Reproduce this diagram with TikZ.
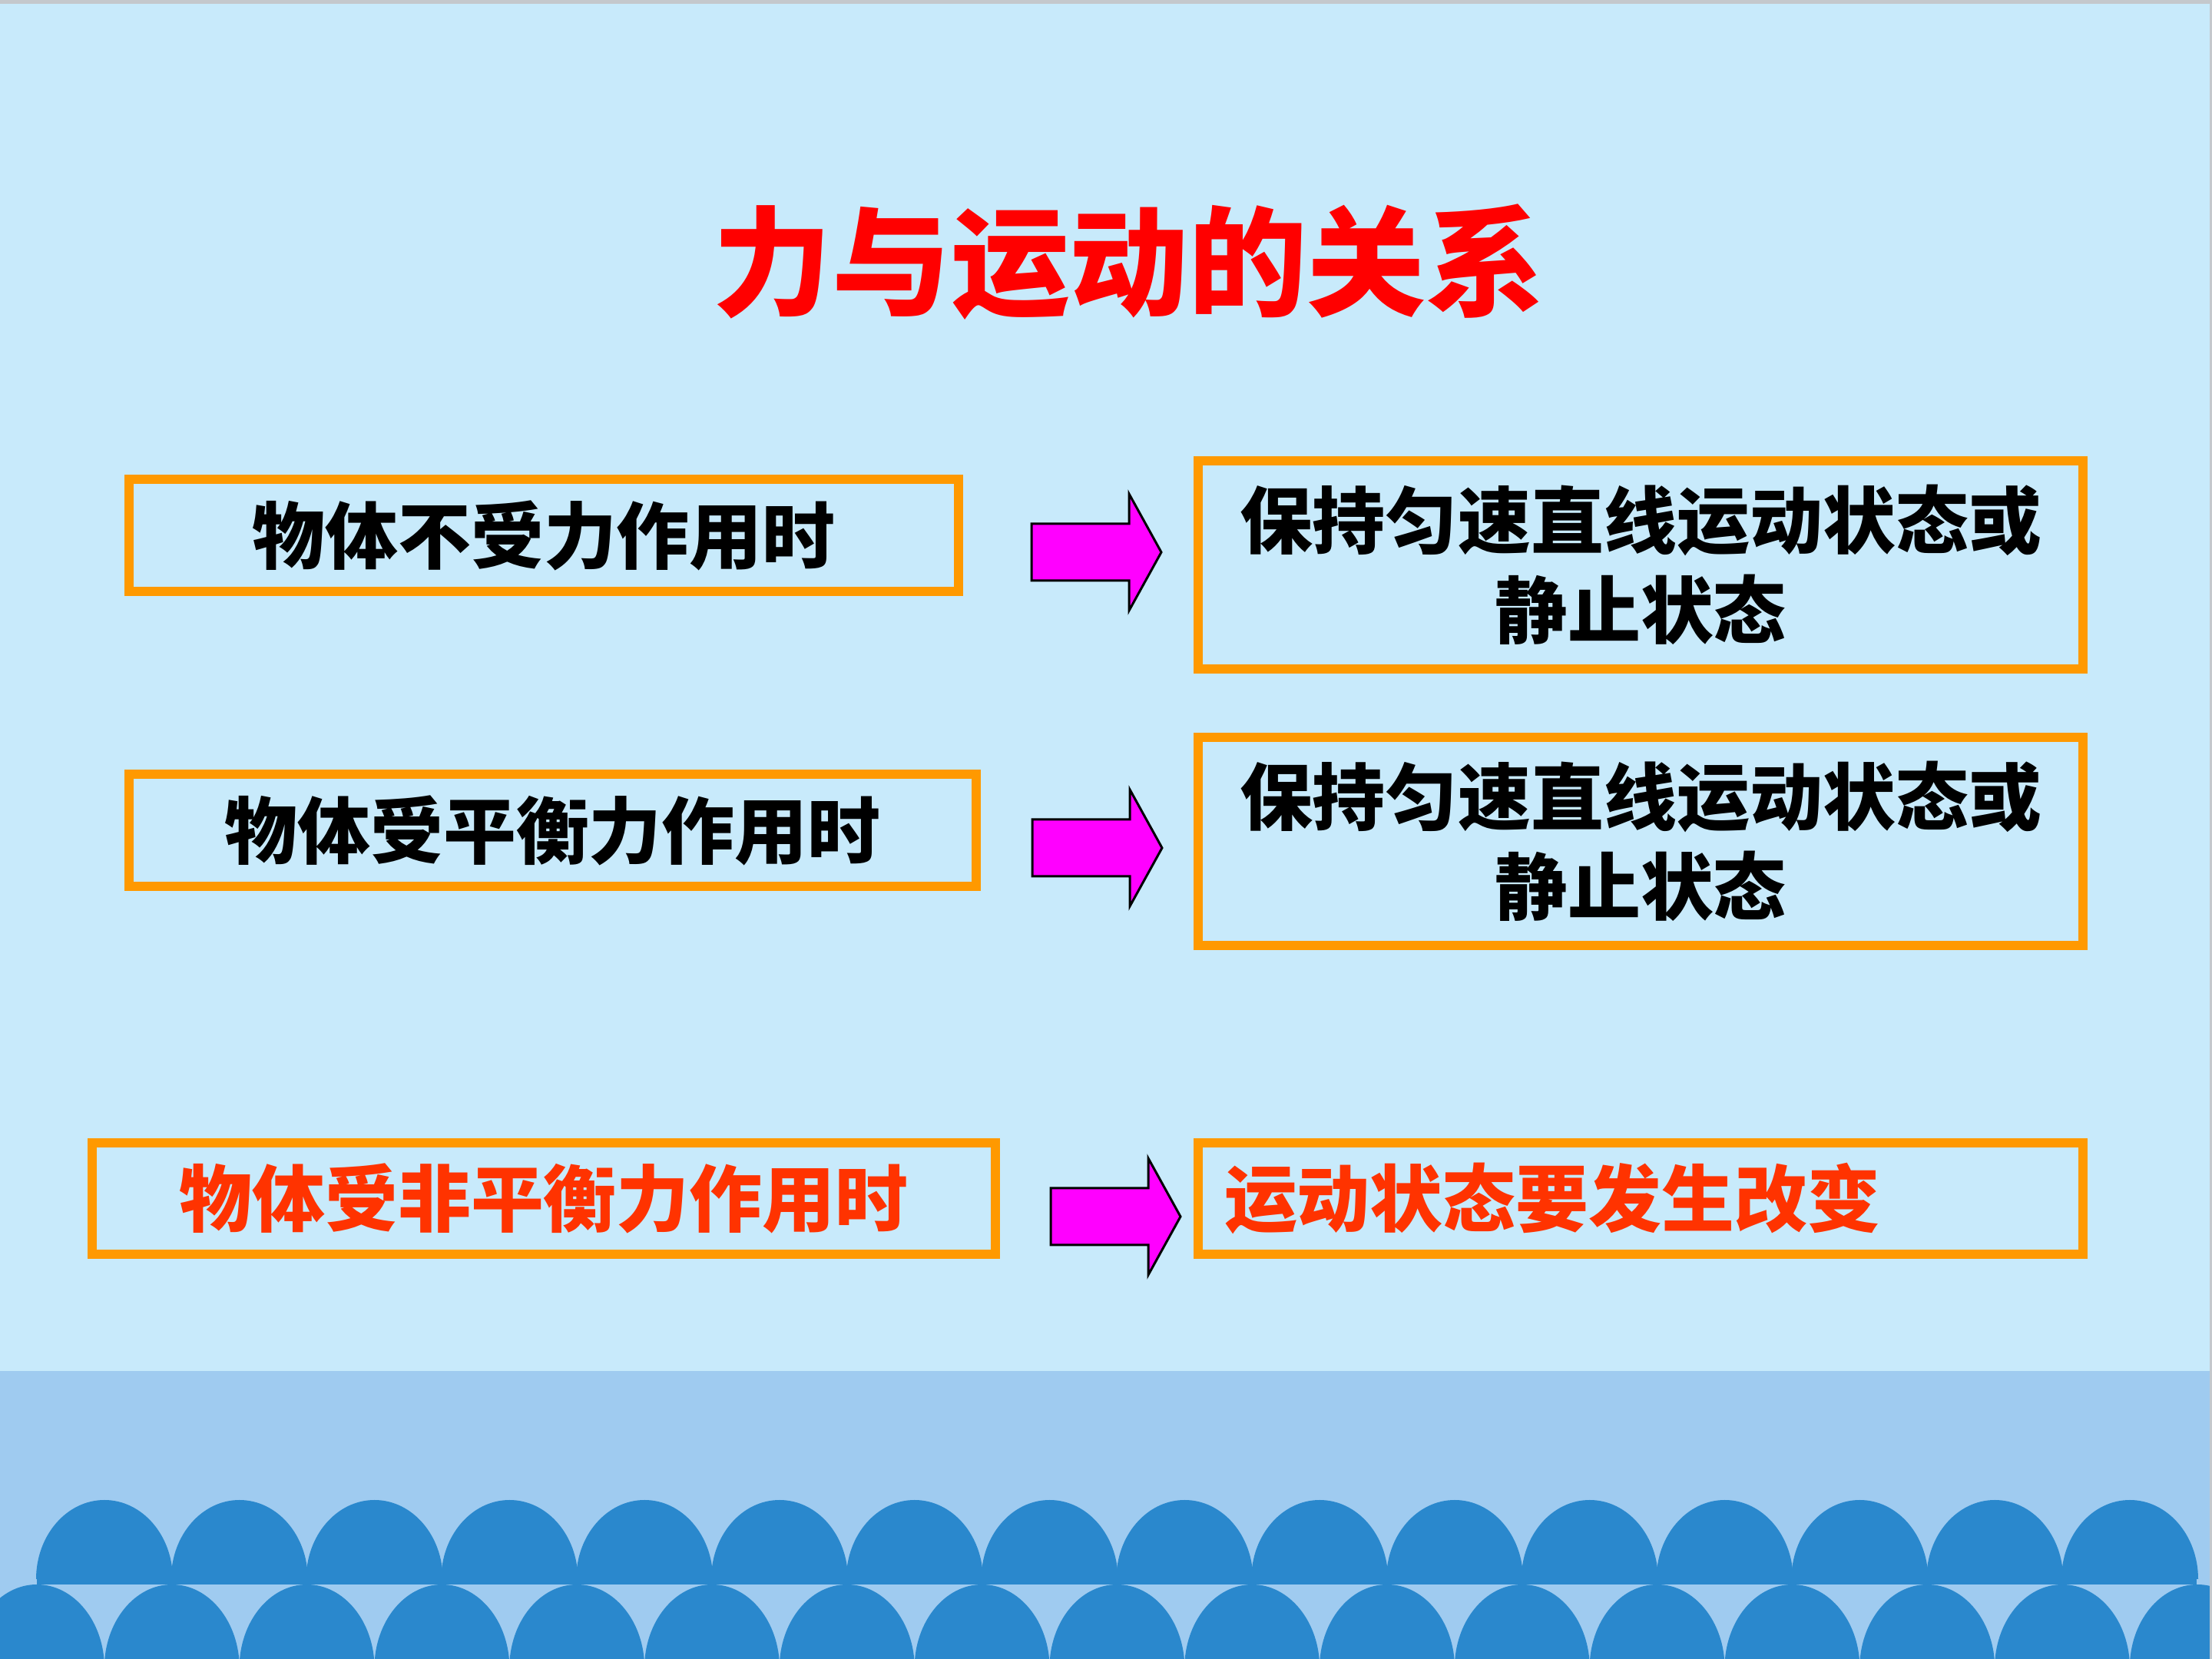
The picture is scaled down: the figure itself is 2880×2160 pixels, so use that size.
\documentclass[tikz,border=0pt]{standalone}
\usepackage{fontspec}
\newfontfamily\cjk{Noto Sans CJK SC}
\definecolor{bgblue}{HTML}{C8EAFB}
\definecolor{bandblue}{HTML}{9FCBF0}
\definecolor{domeblue}{HTML}{2A88CD}
\definecolor{boxorange}{HTML}{FF9900}
\definecolor{arrowmag}{HTML}{FF00FF}
\definecolor{titlered}{HTML}{FF0000}
\definecolor{textred}{HTML}{FF3300}
\definecolor{edgegrey}{HTML}{C4C8CC}
\tikzset{
  box/.style={draw=boxorange, line width=1.2mm, inner sep=0pt, align=center},
  boxtext/.style={font=\cjk\bfseries\fontsize{27pt}{33.2pt}\selectfont},
  titletext/.style={font=\cjk\bfseries\fontsize{44pt}{50pt}\selectfont, text=titlered, inner sep=0pt},
  blockarrow/.style={fill=arrowmag, draw=black, line width=0.3mm, line join=miter},
  dome/.style={fill=domeblue},
}
\begin{document}
\begin{tikzpicture}[x=0.1mm,y=0.1mm]
\useasboundingbox (0,0) rectangle (2880,2160);
% background
\fill[bgblue] (0,0) rectangle (2880,2160);
\fill[edgegrey] (0,2155) rectangle (2880,2160);
\fill[bandblue] (0,0) rectangle (2880,375);
% waves: upper row
\fill[dome] (48,97) rectangle (2860,105);
\foreach \k in {0,...,15}
  \fill[dome] ({136+175.8*\k-89},104) arc[start angle=180,end angle=0,x radius=8.9mm,y radius=10.3mm] -- cycle;
% waves: lower row
\foreach \k in {0,...,16}
  \fill[dome] ({48+175.8*\k-88},-12) arc[start angle=180,end angle=0,x radius=8.8mm,y radius=10.9mm] -- cycle;
\fill[edgegrey] (2877,0) rectangle (2880,2160);

% title
\node[titletext] (title) at (1470,1819) {力与运动的关系};

% boxes
\node[box, boxtext, minimum width=108mm, minimum height=14.6mm] (b1) at (708,1463) {物体不受力作用时};
\node[box, boxtext, minimum width=115.2mm, minimum height=27.1mm] (b2) at (2136,1424.5) {保持匀速直线运动状态或\\静止状态};
\node[box, boxtext, minimum width=110.3mm, minimum height=14.6mm] (b3) at (719.5,1079) {物体受平衡力作用时};
\node[box, boxtext, minimum width=115.2mm, minimum height=27.1mm] (b4) at (2136,1064.5) {保持匀速直线运动状态或\\静止状态};
\node[box, boxtext, text=textred, minimum width=117.6mm, minimum height=14.5mm] (b5) at (708,599.5) {物体受非平衡力作用时};
\node[box, boxtext, text=textred, text width=108.4mm, inner xsep=3.4mm, align=left, minimum height=14.5mm] (b6) at (2136,599.5) {运动状态要发生改变};

% block arrows
\coordinate (a1) at (1343,1441);
\coordinate (a2) at (1344,1056);
\coordinate (a3) at (1368,576);
\foreach \a in {a1,a2,a3}
  \draw[blockarrow] (\a) ++(0,37) -- ++(127,0) -- ++(0,39) -- ++(42,-76) -- ++(-42,-76) -- ++(0,39) -- ++(-127,0) -- cycle;
\end{tikzpicture}
\end{document}
